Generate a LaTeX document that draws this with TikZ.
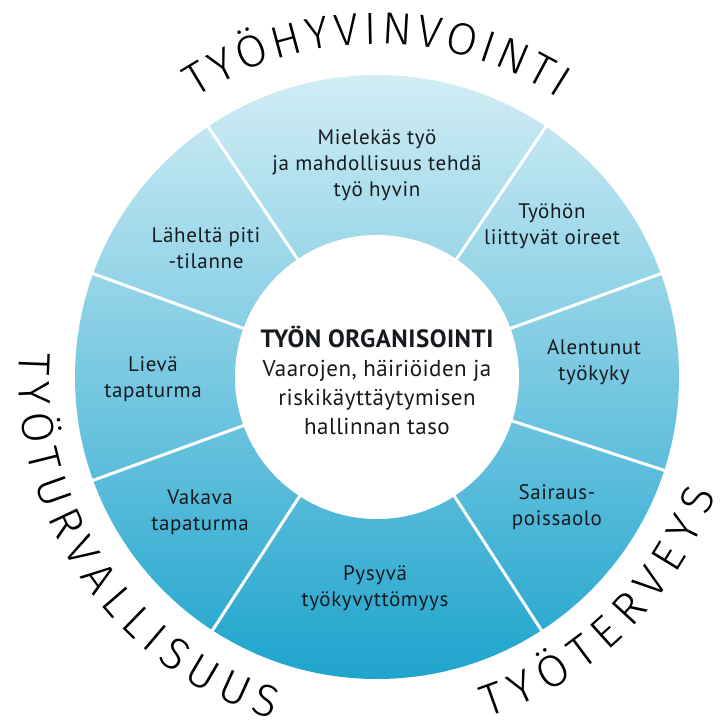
\documentclass[tikz,border=0pt]{standalone}
\usepackage{fontspec}
\setmainfont{PT Sans}
\IfFontExistsTF{Fira Sans Light}{\newfontfamily\thinfont{Fira Sans Light}}{%
  \IfFontExistsTF{Lato Light}{\newfontfamily\thinfont{Lato Light}}{\newfontfamily\thinfont{Fira Sans}}}
\usepackage{tikz}
\usetikzlibrary{decorations.text}
\definecolor{ringtop}{RGB}{210,237,245}
\definecolor{ringbottom}{RGB}{30,164,205}
\definecolor{inktext}{RGB}{22,26,30}

\tikzset{
  seglabel/.style={align=center, text=inktext, font=\fontsize{10.5}{13}\selectfont\addfontfeatures{LetterSpace=3}},
  ringtitle/.style={decorate, decoration={text along path, text align={fit to path},
    text={|\thinfont\fontsize{22.5}{25}\selectfont|#1}}}
}

\begin{document}
\begin{tikzpicture}[x=0.5pt, y=0.5pt]
			\useasboundingbox (-377,-345) rectangle (345,377);
			% ring
			\shade[top color=ringtop, bottom color=ringbottom] (0,0) circle[radius=302];
			\fill[white] (0,0) circle[radius=142];
			\foreach \a in {20,56,124,160,200,237,303,342}
				\draw[white, line width=1.5pt] (\a:141) -- (\a:303);
			% centre
			\node[align=center, text=inktext, font=\fontsize{11.5}{14.5}\selectfont\addfontfeatures{LetterSpace=2}] (org) at (0,-3)
				{{\fontsize{12.5}{14.5}\selectfont\bfseries\addfontfeatures{LetterSpace=2}TYÖN ORGANISOINTI}\\Vaarojen, häiriöiden ja\\riskikäyttäytymisen\\hallinnan taso};
			% segments
			\node[seglabel] (mielekas) at (0,212) {Mielekäs työ\\ja mahdollisuus tehdä\\työ hyvin};
			\node[seglabel] (oireet) at (175,151) {Työhön\\liittyvät oireet};
			\node[seglabel] (tyokyky) at (217,15) {Alentunut\\työkyky};
			\node[seglabel] (sairaus) at (180,-130) {Sairaus-\\poissaolo};
			\node[seglabel] (pysyva) at (-2,-211) {Pysyvä\\työkyvyttömyys};
			\node[seglabel] (vakava) at (-177,-135) {Vakava\\tapaturma};
			\node[seglabel] (lieva) at (-224,-2) {Lievä\\tapaturma};
			\node[seglabel] (lahelta) at (-171,129) {Läheltä piti\\-tilanne};
			% titles
			\path[ringtitle=TYÖHYVINVOINTI] (123:333) arc[start angle=123, end angle=57, radius=333];
			\path[ringtitle=TYÖTURVALLISUUS] (176:358) arc[start angle=176, end angle=253, radius=358];
			\path[ringtitle=TYÖTERVEYS] (288:358) arc[start angle=288, end angle=341, radius=358];
		\end{tikzpicture}
\end{document}
